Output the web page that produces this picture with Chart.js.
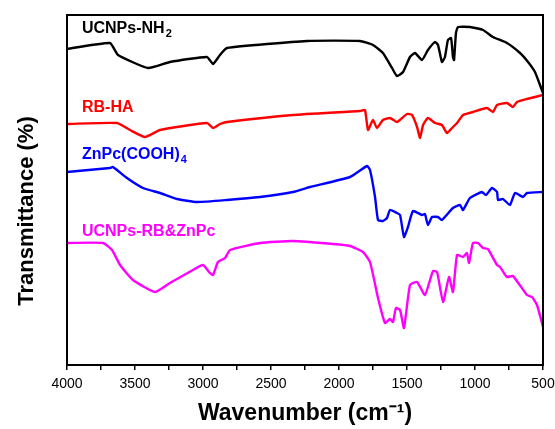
<!DOCTYPE html>
<html>
<head>
<meta charset="utf-8">
<script src="https://cdn.jsdelivr.net/npm/chart.js@4.4.0/dist/chart.umd.min.js"></script>
<style>
  html, body { margin: 0; padding: 0; background: #fff; }
  #wrap { width: 555px; height: 429px; }
</style>
</head>
<body>
<div id="wrap"><canvas id="ftir" width="555" height="429"></canvas></div>
<script>
// FTIR spectra, wavenumber (cm-1) vs offset transmittance (arb.)
const ucnpWn = [4000, 3684, 3625, 3404, 3243, 2971, 2926, 2875, 2824, 2235, 1846, 1750, 1677, 1610, 1574, 1529, 1478, 1441, 1390, 1346, 1294, 1272, 1243, 1221, 1199, 1176, 1162, 1154, 1140, 1125, 1037, 941, 868, 765, 669, 610, 559, 522, 500];
const ucnpT = [316, 322, 310, 297, 303, 308, 301, 310, 317, 324, 324, 320, 312, 297, 289, 293, 308, 312, 305, 315, 323, 320, 303, 308, 325, 327, 308, 305, 332, 338, 338, 335, 328, 322, 312, 303, 293, 280, 272];

const rbWn = [4000, 3632, 3537, 3426, 3316, 2971, 2926, 2875, 2824, 2338, 1846, 1809, 1787, 1750, 1721, 1677, 1625, 1574, 1500, 1463, 1426, 1404, 1382, 1346, 1294, 1243, 1206, 1169, 1132, 1088, 1015, 912, 868, 838, 765, 721, 691, 618, 500];
const rbT = [241, 242, 235, 228, 235, 242, 237, 241, 243, 250, 254, 255, 235, 245, 237, 245, 247, 243, 251, 250, 238, 227, 240, 247, 242, 240, 232, 237, 242, 250, 253, 257, 253, 260, 262, 258, 263, 266, 270];

const znWn = [4000, 3684, 3662, 3559, 3441, 3316, 3191, 3044, 2824, 2581, 2338, 2213, 1919, 1794, 1772, 1735, 1713, 1676, 1647, 1625, 1574, 1551, 1522, 1493, 1456, 1390, 1368, 1346, 1316, 1272, 1243, 1162, 1110, 1088, 1037, 949, 919, 875, 838, 831, 794, 743, 706, 647, 618, 500];
const znT = [193, 197, 198, 187, 177, 172, 166, 163, 165, 168, 173, 178, 188, 199, 195, 168, 145, 144, 147, 155, 152, 150, 128, 138, 154, 150, 151, 140, 148, 148, 145, 157, 160, 155, 167, 173, 170, 177, 173, 165, 166, 160, 172, 168, 172, 173];

const mixWn = [4000, 3735, 3669, 3610, 3515, 3353, 3243, 3074, 3000, 2949, 2926, 2890, 2838, 2801, 2581, 2338, 2044, 1919, 1824, 1772, 1713, 1662, 1625, 1603, 1581, 1551, 1522, 1478, 1426, 1368, 1309, 1279, 1235, 1191, 1162, 1132, 1088, 1059, 1044, 1015, 978, 941, 905, 838, 816, 765, 721, 618, 581, 544, 500];
const mixT = [122, 122, 115, 100, 85, 73, 82, 95, 100, 92, 90, 103, 107, 115, 122, 124, 121, 119, 113, 103, 67, 42, 46, 43, 57, 55, 37, 80, 83, 70, 94, 93, 63, 88, 73, 110, 108, 112, 102, 122, 122, 117, 116, 100, 98, 88, 89, 70, 68, 60, 38];

const xTicks = [4000, 3500, 3000, 2500, 2000, 1500, 1000, 500];

const seriesNames = ['UCNPs-NH', 'RB-HA', 'ZnPc(COOH)', 'UCNPs-RB&ZnPc'];
const seriesSubs = ['2', '', '4', ''];
const seriesColors = ['#000000', '#ff0000', '#0000ff', '#ff00ff'];

const FONT = '"Liberation Sans", Arial, sans-serif';

function pairs(xs, ys) {
    return xs.map(function(x, i) { return { x: x, y: ys[i] }; });
}

// frame, in-plot series labels with subscripts, y title
const labelPlugin = {
    id: 'labels',
    afterDatasetsDraw(chart) {
        const ctx = chart.ctx;
        const xs = chart.scales.x, ys = chart.scales.y;
        const area = chart.chartArea;
        const labelY = [332, 253, 206, 129];
        ctx.save();
        ctx.strokeStyle = '#000';
        ctx.lineWidth = 2;
        ctx.strokeRect(area.left, area.top, area.right - area.left, area.bottom - area.top);
        ctx.textBaseline = 'alphabetic';
        seriesNames.forEach(function(name, i) {
            let x = xs.getPixelForValue(3890);
            const y = ys.getPixelForValue(labelY[i]);
            ctx.fillStyle = seriesColors[i];
            ctx.font = 'bold 16px ' + FONT;
            ctx.fillText(name, x, y);
            if (seriesSubs[i]) {
                x += ctx.measureText(name).width + 1;
                ctx.font = 'bold 11px ' + FONT;
                ctx.fillText(seriesSubs[i], x, y + 4);
            }
        });
        // y axis title, sits a bit below the middle like the original
        ctx.translate(27, ys.getPixelForValue(154));
        ctx.rotate(-Math.PI / 2);
        ctx.fillStyle = '#000';
        ctx.font = 'bold 22px ' + FONT;
        ctx.textAlign = 'center';
        ctx.textBaseline = 'middle';
        ctx.fillText('Transmittance (%)', 0, 0);
        ctx.restore();
    }
};

const ctx = document.getElementById('ftir').getContext('2d');
const chart = new Chart(ctx, {
    type: 'line',
    data: {
        datasets: [
            { data: pairs(ucnpWn, ucnpT), borderColor: seriesColors[0] },
            { data: pairs(rbWn, rbT), borderColor: seriesColors[1] },
            { data: pairs(znWn, znT), borderColor: seriesColors[2] },
            { data: pairs(mixWn, mixT), borderColor: seriesColors[3] }
        ]
    },
    options: {
        responsive: false,
        animation: false,
        parsing: false,
        layout: { padding: { top: 15, right: 12, left: 0, bottom: 0 } },
        elements: {
            line: { borderWidth: 2.4, tension: 0.15, fill: false, borderJoinStyle: 'round', borderCapStyle: 'round' },
            point: { radius: 0 }
        },
        plugins: {
            legend: { display: false },
            tooltip: { enabled: false }
        },
        scales: {
            x: {
                type: 'linear',
                reverse: true,
                min: 500,
                max: 4000,
                afterFit: function(scale) { scale.height = 64; },
                afterBuildTicks: function(scale) {
                    const t = [];
                    for (let v = 500; v <= 4000; v += 250) t.push({ value: v });
                    scale.ticks = t;
                },
                ticks: {
                    autoSkip: false,
                    maxRotation: 0,
                    padding: 6,
                    color: '#000',
                    font: { family: FONT, size: 14 },
                    callback: function(v) { return xTicks.indexOf(v) >= 0 ? String(v) : ''; }
                },
                grid: {
                    display: true,
                    drawOnChartArea: false,
                    drawTicks: true,
                    tickLength: 5,
                    color: '#000',
                    lineWidth: 1.5
                },
                border: { display: true, color: '#000', width: 2 },
                title: {
                    display: true,
                    text: 'Wavenumber (cm\u207B\u00B9)',
                    color: '#000',
                    padding: { top: 0, bottom: 2 },
                    font: { family: FONT, size: 23, weight: 'bold' }
                }
            },
            y: {
                type: 'linear',
                min: 0,
                max: 350,
                afterFit: function(scale) { scale.width = 67; },
                ticks: { display: false },
                grid: { display: false, drawTicks: false },
                border: { display: true, color: '#000', width: 2 },
                title: { display: false }
            }
        }
    },
    plugins: [labelPlugin]
});
</script>
</body>
</html>
